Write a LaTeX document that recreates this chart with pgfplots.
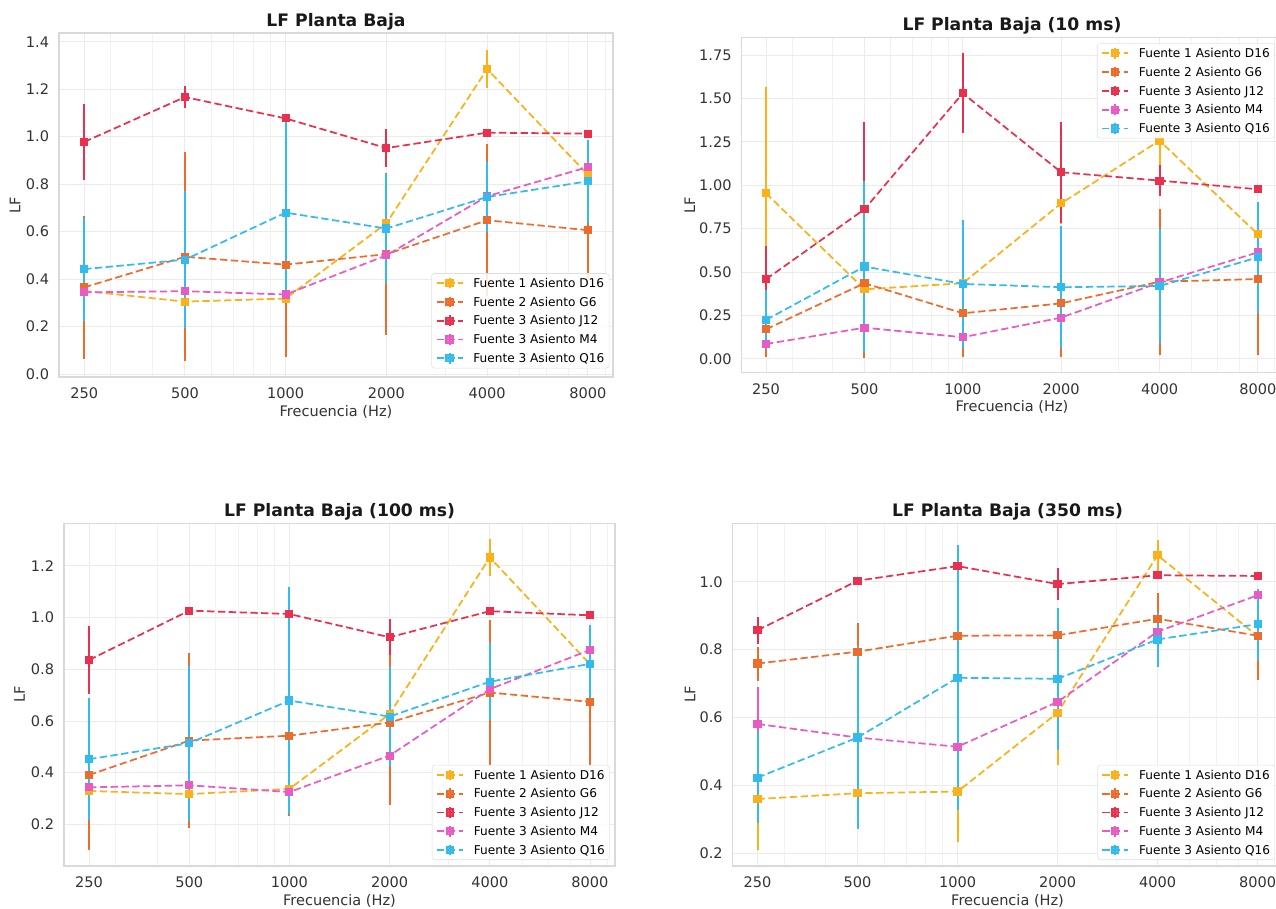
\documentclass[border=0pt]{standalone}
\usepackage{pgfplots}
\pgfplotsset{compat=1.18}
\usepackage{fontspec}
\setmainfont{DejaVu Sans}
\definecolor{cD}{HTML}{FBB117}
\definecolor{cG}{HTML}{EE6C2B}
\definecolor{cJ}{HTML}{E8304F}
\definecolor{cM}{HTML}{E85BC5}
\definecolor{cQ}{HTML}{33BBEE}
\definecolor{txt}{HTML}{333333}
\pgfplotsset{
  every axis/.append style={
    scale only axis,
    xmin=210.22, xmax=9513.9,
    xtick={250,500,1000,2000,4000,8000},
    xticklabels={250,500,1000,2000,4000,8000},
    minor xtick={300,400,600,700,800,900,3000,5000,6000,7000,9000},
    xmajorgrids=true, xminorgrids=true, ymajorgrids=true,
    major grid style={draw=black!8, line width=0.7pt},
    minor grid style={draw=black!5, line width=0.5pt},
    axis line style={draw=black!15, line width=1pt},
    major tick length=0pt, minor tick length=0pt,
    tick style={draw=none},
    tick label style={font=\fontsize{10.9}{13}\selectfont, text=txt},
    xticklabel style={yshift=-4.6pt},
    yticklabel style={xshift=-3.9pt},
    label style={font=\fontsize{10.9}{13}\selectfont, text=txt},
    title style={font=\fontsize{12.9}{15}\selectfont\bfseries, text=black!90, at={(0.5,1)}, anchor=base, yshift=-0.8pt},
    legend cell align=left,
    legend style={font=\fontsize{9.1}{11}\selectfont, draw=black!12, fill=white, fill opacity=0.85, text opacity=1,
      rounded corners=2pt, inner xsep=3pt, inner ysep=2.5pt, row sep=4.6pt,
      nodes={inner sep=0.5pt, text height=6.8pt, text depth=0.5pt},
      /tikz/every odd column/.append style={column sep=7pt}},
  },
  /pgf/number format/assume math mode=true,
  ser/.style={color=#1, line width=1.3pt, dash pattern=on 5.5pt off 2.6pt, mark=square*, mark size=2.4pt,
    mark options={solid, fill=#1},
    /pgfplots/error bars/y dir=both, /pgfplots/error bars/y explicit, /pgfplots/error bars/error mark=none,
    /pgfplots/error bars/error bar style={solid, line width=1.5pt, color=#1}},
  ebleg/.style={legend image code/.code={
      \draw (0pt,0pt) -- (19.5pt,0pt);
      \draw[solid, line width=1.5pt] (9.75pt,-4pt) -- (9.75pt,4pt);
      \draw[solid] plot coordinates {(9.75pt,0pt)};}},
}
\begin{document}
\begin{tikzpicture}
\useasboundingbox (0,0) rectangle (957pt,681pt);
% ---------------- Panel 1 ----------------
\begin{semilogxaxis}[at={(44.25pt,398.25pt)}, anchor=south west, width=415.5pt, height=258pt,
  ymin=-0.0126, ymax=1.437, ytick={0,0.2,0.4,0.6,0.8,1.0,1.2,1.4},
  yticklabel style={/pgf/number format/fixed, /pgf/number format/fixed zerofill, /pgf/number format/precision=1},
  title={LF Planta Baja}, xlabel={Frecuencia (Hz)}, ylabel={LF},
  xlabel style={at={(axis description cs:0.5,-0.101)}, anchor=center},
  ylabel style={at={(axis description cs:-0.0794,0.5)}, anchor=center, rotate=0},
  legend style={at={(0.9933,0.0253)}, anchor=south east}]
\addplot[ser=cD, ebleg] coordinates {(250,0.35) +- (0,0.03) (500,0.305) +- (0,0.03) (1000,0.318) +- (0,0.03) (2000,0.635) +- (0,0.05) (4000,1.285) +- (0,0.08) (8000,0.84) +- (0,0.03)};
\addlegendentry{Fuente 1 Asiento D16}
\addplot[ser=cG, ebleg] coordinates {(250,0.365) +- (0,0.30) (500,0.494) +- (0,0.44) (1000,0.461) +- (0,0.39) (2000,0.505) +- (0,0.34) (4000,0.648) +- (0,0.32) (8000,0.606) +- (0,0.2)};
\addlegendentry{Fuente 2 Asiento G6}
\addplot[ser=cJ, ebleg] coordinates {(250,0.978) +- (0,0.16) (500,1.167) +- (0,0.045) (1000,1.077) +- (0,0.02) (2000,0.952) +- (0,0.08) (4000,1.017) +- (0,0.015) (8000,1.013) +- (0,0.015)};
\addlegendentry{Fuente 3 Asiento J12}
\addplot[ser=cM, ebleg] coordinates {(250,0.344) +- (0,0.02) (500,0.349) +- (0,0.02) (1000,0.335) +- (0,0.02) (2000,0.50) +- (0,0.03) (4000,0.749) +- (0,0.03) (8000,0.872) +- (0,0.03)};
\addlegendentry{Fuente 3 Asiento M4}
\addplot[ser=cQ, ebleg] coordinates {(250,0.442) +- (0,0.217) (500,0.482) +- (0,0.29) (1000,0.68) +- (0,0.38) (2000,0.613) +- (0,0.23) (4000,0.746) +- (0,0.147) (8000,0.812) +- (0,0.175)};
\addlegendentry{Fuente 3 Asiento Q16}
\end{semilogxaxis}
% ---------------- Panel 2 ----------------
\begin{semilogxaxis}[at={(556.1pt,401.5pt)}, anchor=south west, width=405.75pt, height=251.25pt,
  ymin=-0.079, ymax=1.85, ytick={0,0.25,0.5,0.75,1.0,1.25,1.5,1.75},
  yticklabel style={/pgf/number format/fixed, /pgf/number format/fixed zerofill, /pgf/number format/precision=2},
  title={LF Planta Baja (10 ms)}, xlabel={Frecuencia (Hz)}, ylabel={LF},
  xlabel style={at={(axis description cs:0.5,-0.102)}, anchor=center},
  ylabel style={at={(axis description cs:-0.0954,0.5)}, anchor=center, rotate=0},
  legend style={at={(0.986,0.983)}, anchor=north east}]
\addplot[ser=cD, ebleg] coordinates {(250,0.954) +- (0,0.61) (500,0.401) +- (0,0.03) (1000,0.436) +- (0,0.03) (2000,0.896) +- (0,0.12) (4000,1.257) +- (0,0.14) (8000,0.718) +- (0,0.05)};
\addlegendentry{Fuente 1 Asiento D16}
\addplot[ser=cG, ebleg] coordinates {(250,0.171) +- (0,0.158) (500,0.436) +- (0,0.43) (1000,0.263) +- (0,0.25) (2000,0.32) +- (0,0.31) (4000,0.445) +- (0,0.42) (8000,0.46) +- (0,0.44)};
\addlegendentry{Fuente 2 Asiento G6}
\addplot[ser=cJ, ebleg] coordinates {(250,0.459) +- (0,0.19) (500,0.862) +- (0,0.5) (1000,1.53) +- (0,0.23) (2000,1.075) +- (0,0.29) (4000,1.027) +- (0,0.09) (8000,0.977) +- (0,0.02)};
\addlegendentry{Fuente 3 Asiento J12}
\addplot[ser=cM, ebleg] coordinates {(250,0.086) +- (0,0.02) (500,0.18) +- (0,0.02) (1000,0.125) +- (0,0.02) (2000,0.238) +- (0,0.02) (4000,0.44) +- (0,0.02) (8000,0.614) +- (0,0.02)};
\addlegendentry{Fuente 3 Asiento M4}
\addplot[ser=cQ, ebleg] coordinates {(250,0.225) +- (0,0.17) (500,0.532) +- (0,0.49) (1000,0.432) +- (0,0.37) (2000,0.413) +- (0,0.35) (4000,0.42) +- (0,0.33) (8000,0.585) +- (0,0.32)};
\addlegendentry{Fuente 3 Asiento Q16}
\end{semilogxaxis}
% ---------------- Panel 3 ----------------
\begin{semilogxaxis}[at={(48pt,31.5pt)}, anchor=south west, width=413.25pt, height=257pt,
  ymin=0.0386, ymax=1.365, ytick={0.2,0.4,0.6,0.8,1.0,1.2},
  yticklabel style={/pgf/number format/fixed, /pgf/number format/fixed zerofill, /pgf/number format/precision=1},
  title={LF Planta Baja (100 ms)}, xlabel={Frecuencia (Hz)}, ylabel={LF},
  xlabel style={at={(axis description cs:0.5,-0.101)}, anchor=center},
  ylabel style={at={(axis description cs:-0.0808,0.5)}, anchor=center, rotate=0},
  legend style={at={(0.9906,0.0175)}, anchor=south east}]
\addplot[ser=cD, ebleg] coordinates {(250,0.329) +- (0,0.03) (500,0.317) +- (0,0.02) (1000,0.337) +- (0,0.02) (2000,0.627) +- (0,0.04) (4000,1.233) +- (0,0.07) (8000,0.82) +- (0,0.03)};
\addlegendentry{Fuente 1 Asiento D16}
\addplot[ser=cG, ebleg] coordinates {(250,0.391) +- (0,0.29) (500,0.524) +- (0,0.34) (1000,0.543) +- (0,0.31) (2000,0.594) +- (0,0.32) (4000,0.71) +- (0,0.28) (8000,0.674) +- (0,0.25)};
\addlegendentry{Fuente 2 Asiento G6}
\addplot[ser=cJ, ebleg] coordinates {(250,0.836) +- (0,0.13) (500,1.027) +- (0,0.015) (1000,1.014) +- (0,0.015) (2000,0.924) +- (0,0.07) (4000,1.025) +- (0,0.015) (8000,1.009) +- (0,0.015)};
\addlegendentry{Fuente 3 Asiento J12}
\addplot[ser=cM, ebleg] coordinates {(250,0.343) +- (0,0.02) (500,0.351) +- (0,0.02) (1000,0.325) +- (0,0.02) (2000,0.466) +- (0,0.03) (4000,0.723) +- (0,0.03) (8000,0.875) +- (0,0.03)};
\addlegendentry{Fuente 3 Asiento M4}
\addplot[ser=cQ, ebleg] coordinates {(250,0.452) +- (0,0.235) (500,0.514) +- (0,0.30) (1000,0.679) +- (0,0.44) (2000,0.617) +- (0,0.19) (4000,0.752) +- (0,0.15) (8000,0.821) +- (0,0.15)};
\addlegendentry{Fuente 3 Asiento Q16}
\end{semilogxaxis}
% ---------------- Panel 4 ----------------
\begin{semilogxaxis}[at={(549.4pt,31.5pt)}, anchor=south west, width=412.5pt, height=257pt,
  ymin=0.1626, ymax=1.172, ytick={0.2,0.4,0.6,0.8,1.0},
  yticklabel style={/pgf/number format/fixed, /pgf/number format/fixed zerofill, /pgf/number format/precision=1},
  title={LF Planta Baja (350 ms)}, xlabel={Frecuencia (Hz)}, ylabel={LF},
  xlabel style={at={(axis description cs:0.5,-0.101)}, anchor=center},
  ylabel style={at={(axis description cs:-0.0773,0.5)}, anchor=center, rotate=0},
  legend style={at={(0.9864,0.0175)}, anchor=south east}]
\addplot[ser=cD, ebleg] coordinates {(250,0.36) +- (0,0.15) (500,0.377) +- (0,0.02) (1000,0.382) +- (0,0.15) (2000,0.614) +- (0,0.155) (4000,1.078) +- (0,0.045) (8000,0.84) +- (0,0.02)};
\addlegendentry{Fuente 1 Asiento D16}
\addplot[ser=cG, ebleg] coordinates {(250,0.759) +- (0,0.05) (500,0.794) +- (0,0.085) (1000,0.841) +- (0,0.02) (2000,0.842) +- (0,0.02) (4000,0.891) +- (0,0.075) (8000,0.841) +- (0,0.13)};
\addlegendentry{Fuente 2 Asiento G6}
\addplot[ser=cJ, ebleg] coordinates {(250,0.857) +- (0,0.04) (500,1.003) +- (0,0.01) (1000,1.046) +- (0,0.01) (2000,0.993) +- (0,0.046) (4000,1.019) +- (0,0.01) (8000,1.017) +- (0,0.01)};
\addlegendentry{Fuente 3 Asiento J12}
\addplot[ser=cM, ebleg] coordinates {(250,0.581) +- (0,0.11) (500,0.541) +- (0,0.02) (1000,0.514) +- (0,0.02) (2000,0.646) +- (0,0.03) (4000,0.853) +- (0,0.02) (8000,0.96) +- (0,0.02)};
\addlegendentry{Fuente 3 Asiento M4}
\addplot[ser=cQ, ebleg] coordinates {(250,0.423) +- (0,0.135) (500,0.541) +- (0,0.27) (1000,0.717) +- (0,0.39) (2000,0.714) +- (0,0.21) (4000,0.83) +- (0,0.08) (8000,0.875) +- (0,0.105)};
\addlegendentry{Fuente 3 Asiento Q16}
\end{semilogxaxis}
\end{tikzpicture}
\end{document}
